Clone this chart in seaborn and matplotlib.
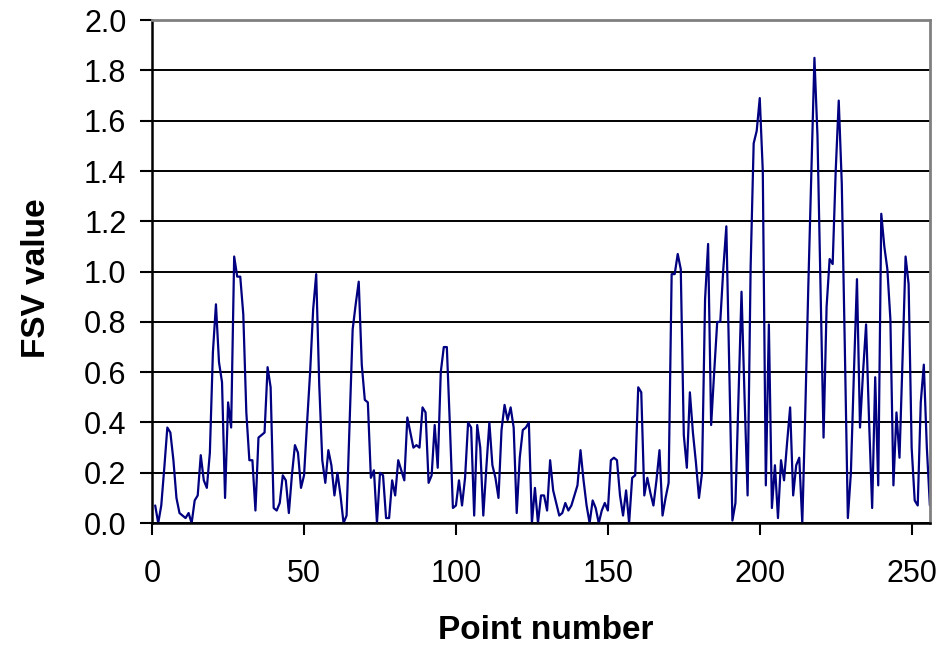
import numpy as np
import pandas as pd
import matplotlib
matplotlib.use("Agg")
import matplotlib.pyplot as plt
import seaborn as sns

# =====================================
# DATA
# =====================================

fsv_values = [
    0.07, 0.00, 0.07, 0.22, 0.38, 0.36, 0.25, 0.10, 0.04, 0.03,
    0.02, 0.04, 0.00, 0.09, 0.11, 0.27, 0.17, 0.14, 0.28, 0.68,
    0.87, 0.64, 0.56, 0.10, 0.48, 0.38, 1.06, 0.98, 0.98, 0.83,
    0.44, 0.25, 0.25, 0.05, 0.34, 0.35, 0.36, 0.62, 0.54, 0.06,
    0.05, 0.08, 0.19, 0.17, 0.04, 0.19, 0.31, 0.28, 0.14, 0.19,
    0.40, 0.60, 0.85, 0.99, 0.55, 0.25, 0.16, 0.29, 0.23, 0.11,
    0.20, 0.11, 0.00, 0.03, 0.40, 0.77, 0.87, 0.96, 0.63, 0.49,
    0.48, 0.18, 0.21, 0.00, 0.20, 0.19, 0.02, 0.02, 0.17, 0.11,
    0.25, 0.21, 0.17, 0.42, 0.36, 0.30, 0.31, 0.30, 0.46, 0.44,
    0.16, 0.19, 0.39, 0.22, 0.60, 0.70, 0.70, 0.39, 0.06, 0.07,
    0.17, 0.07, 0.18, 0.40, 0.38, 0.03, 0.39, 0.30, 0.03, 0.22,
    0.40, 0.23, 0.18, 0.10, 0.37, 0.47, 0.41, 0.46, 0.38, 0.04,
    0.26, 0.37, 0.38, 0.40, 0.00, 0.14, 0.00, 0.11, 0.11, 0.05,
    0.25, 0.13, 0.08, 0.03, 0.04, 0.08, 0.05, 0.07, 0.11, 0.15,
    0.29, 0.17, 0.07, 0.00, 0.09, 0.06, 0.00, 0.05, 0.08, 0.05,
    0.25, 0.26, 0.25, 0.11, 0.03, 0.13, 0.00, 0.18, 0.19, 0.54,
    0.52, 0.11, 0.18, 0.12, 0.07, 0.17, 0.29, 0.03, 0.10, 0.16,
    0.99, 0.99, 1.07, 1.01, 0.35, 0.22, 0.52, 0.36, 0.24, 0.10,
    0.20, 0.89, 1.11, 0.39, 0.60, 0.80, 0.80, 1.01, 1.18, 0.60,
    0.01, 0.08, 0.50, 0.92, 0.50, 0.11, 1.02, 1.51, 1.56, 1.69,
    1.40, 0.15, 0.79, 0.06, 0.23, 0.02, 0.25, 0.17, 0.32, 0.46,
    0.11, 0.23, 0.26, 0.00, 0.45, 0.95, 1.40, 1.85, 1.54, 0.95,
    0.34, 0.86, 1.05, 1.03, 1.40, 1.68, 1.35, 0.70, 0.02, 0.20,
    0.60, 0.97, 0.38, 0.60, 0.79, 0.40, 0.06, 0.58, 0.15, 1.23,
    1.10, 1.01, 0.81, 0.15, 0.44, 0.26, 0.65, 1.06, 0.95, 0.30,
    0.09, 0.07, 0.48, 0.63, 0.30, 0.07,
]
point_numbers = list(range(1, len(fsv_values) + 1))

x_ticks = [0, 50, 100, 150, 200, 250]
y_ticks = [0.0, 0.2, 0.4, 0.6, 0.8, 1.0, 1.2, 1.4, 1.6, 1.8, 2.0]

df = pd.DataFrame({"point": point_numbers, "fsv": fsv_values})

# =====================================
# STYLE
# =====================================

sns.set_style("white")
plt.rcParams["font.family"] = ["Liberation Sans", "DejaVu Sans"]

fig = plt.figure(figsize=(9.45, 6.49), dpi=100)
ax = fig.add_axes([0.161, 0.194, 0.823, 0.775])

# =====================================
# PLOT
# =====================================

sns.lineplot(
    data=df,
    x="point",
    y="fsv",
    color="#000080",
    linewidth=1.6,
    ax=ax
)

ax.set_xlim(0, 256)
ax.set_ylim(0, 2.0)
ax.set_xticks(x_ticks)
ax.set_yticks(y_ticks)
ax.set_yticklabels([f"{v:.1f}" for v in y_ticks])

ax.yaxis.grid(True, color="black", linewidth=1.4)
ax.xaxis.grid(False)
ax.set_axisbelow(True)

ax.tick_params(axis="both", direction="out", length=8.5, width=1.5,
               color="black", labelcolor="black", labelsize=22,
               left=True, bottom=True)
ax.tick_params(axis="y", pad=10)
ax.tick_params(axis="x", pad=17)

ax.spines["left"].set_color("black")
ax.spines["bottom"].set_color("black")
ax.spines["left"].set_linewidth(1.8)
ax.spines["bottom"].set_linewidth(1.8)
ax.spines["top"].set_color("#808080")
ax.spines["right"].set_color("#808080")
ax.spines["top"].set_linewidth(2.0)
ax.spines["right"].set_linewidth(2.0)

ax.set_xlabel("Point number", fontsize=24, fontweight="bold", color="black")
ax.set_ylabel("FSV value", fontsize=24, fontweight="bold", color="black")
ax.xaxis.set_label_coords(0.506, -0.183)
ax.yaxis.set_label_coords(-0.129, 0.487)

fig.savefig("out.png", dpi=100)
plt.close(fig)
